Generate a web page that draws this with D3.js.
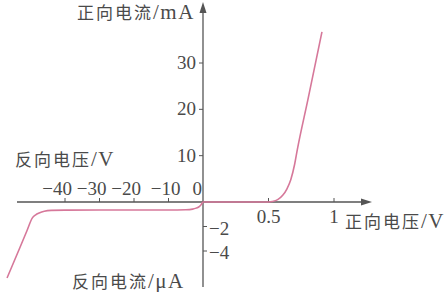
<!DOCTYPE html>
<html>
<head>
<meta charset="utf-8">
<script src="https://cdn.jsdelivr.net/npm/d3@7"></script>
<style>
  html, body { margin: 0; padding: 0; background: #fff; }
  svg { display: block; }
</style>
</head>
<body>
<svg id="chart"></svg>
<script>
// forward branch: volts -> mA
const forwardV = [0, 0.2, 0.4, 0.5, 0.53, 0.57, 0.61, 0.64, 0.67, 0.70, 0.72, 0.80, 0.908];
const forwardI = [0, 0, 0, 0, 0.1, 0.5, 1.5, 2.8, 4.8, 8.2, 11.3, 22, 36.7];
// reverse branch: volts -> µA
const reverseV = [0, -0.5, -1, -2, -3, -5, -10, -20, -30, -40, -44, -46, -47.5, -48.5, -49.5, -51, -53, -56.8];
const reverseI = [0, -0.2, -0.35, -0.5, -0.58, -0.63, -0.65, -0.65, -0.65, -0.66, -0.68, -0.75, -0.9, -1.05, -1.32, -2.33, -3.67, -6.2];

const xTicksNeg = [-40, -30, -20, -10];
const xTicksPos = [0.5, 1];
const yTicksPos = [10, 20, 30];
const yTicksNeg = [-2, -4];

const W = 444, H = 292;
const TEXT_COLOR = '#4a4a4a';
const AXIS_COLOR = '#555';
const CURVE_COLOR = '#d6789a';
const FONT = '"Liberation Serif", "Noto Sans CJK SC", serif';
const CJK_FONT = '"Noto Sans CJK SC", sans-serif';

const svg = d3.select('#chart').attr('width', W).attr('height', H);

// piecewise scales: different units either side of the origin
const x = d3.scaleLinear().domain([-40, 0, 1]).range([65, 203, 334]);
const y = d3.scaleLinear().domain([-4, 0, 30]).range([251, 202, 63]);

const x0 = x(0), y0 = y(0);
const axisLeft = 17, axisRight = 372, axisTop = 2, axisBottom = 287;

// axes
svg.append('line')
    .attr('x1', axisLeft).attr('x2', axisRight - 8)
    .attr('y1', y0).attr('y2', y0)
    .attr('stroke', AXIS_COLOR).attr('stroke-width', 1.3);
svg.append('path')
    .attr('d', `M${axisRight},${y0} L${axisRight - 11},${y0 - 3.5} L${axisRight - 11},${y0 + 3.5} Z`)
    .attr('fill', AXIS_COLOR);

svg.append('line')
    .attr('x1', x0).attr('x2', x0)
    .attr('y1', axisTop + 8).attr('y2', axisBottom)
    .attr('stroke', AXIS_COLOR).attr('stroke-width', 1.3);
svg.append('path')
    .attr('d', `M${x0},${axisTop} L${x0 - 3.5},${axisTop + 11} L${x0 + 3.5},${axisTop + 11} Z`)
    .attr('fill', AXIS_COLOR);

// x ticks (drawn above the axis)
svg.selectAll('.xtick')
    .data(xTicksNeg.concat(xTicksPos))
    .enter().append('line')
    .attr('class', 'xtick')
    .attr('x1', d => x(d)).attr('x2', d => x(d))
    .attr('y1', y0).attr('y2', y0 - 4)
    .attr('stroke', AXIS_COLOR).attr('stroke-width', 1);

svg.selectAll('.xlabel-neg')
    .data(xTicksNeg)
    .enter().append('text')
    .attr('class', 'xlabel-neg')
    .attr('x', d => x(d) + (d === -10 ? 12 : 7))
    .attr('y', 195)
    .attr('text-anchor', 'end')
    .style('font-family', FONT).style('font-size', '19px')
    .attr('fill', TEXT_COLOR)
    .text(d => '\u2212' + Math.abs(d));

svg.append('text')
    .attr('x', x0 - 1).attr('y', 195)
    .attr('text-anchor', 'end')
    .style('font-family', FONT).style('font-size', '19px')
    .attr('fill', TEXT_COLOR)
    .text('0');

svg.selectAll('.xlabel-pos')
    .data(xTicksPos)
    .enter().append('text')
    .attr('class', 'xlabel-pos')
    .attr('x', d => x(d))
    .attr('y', 223)
    .attr('text-anchor', 'middle')
    .style('font-family', FONT).style('font-size', '19px')
    .attr('fill', TEXT_COLOR)
    .text(d => d);

// y ticks
svg.selectAll('.ytick-pos')
    .data(yTicksPos)
    .enter().append('line')
    .attr('class', 'ytick-pos')
    .attr('x1', x0).attr('x2', x0 - 4)
    .attr('y1', d => y(d)).attr('y2', d => y(d))
    .attr('stroke', AXIS_COLOR).attr('stroke-width', 1);

svg.selectAll('.ylabel-pos')
    .data(yTicksPos)
    .enter().append('text')
    .attr('class', 'ylabel-pos')
    .attr('x', x0 - 7)
    .attr('y', d => y(d) + 6)
    .attr('text-anchor', 'end')
    .style('font-family', FONT).style('font-size', '19px')
    .attr('fill', TEXT_COLOR)
    .text(d => d);

svg.selectAll('.ytick-neg')
    .data(yTicksNeg)
    .enter().append('line')
    .attr('class', 'ytick-neg')
    .attr('x1', x0).attr('x2', x0 + 4)
    .attr('y1', d => y(d)).attr('y2', d => y(d))
    .attr('stroke', AXIS_COLOR).attr('stroke-width', 1);

svg.selectAll('.ylabel-neg')
    .data(yTicksNeg)
    .enter().append('text')
    .attr('class', 'ylabel-neg')
    .attr('x', x0 + 6)
    .attr('y', d => y(d) + 8)
    .attr('text-anchor', 'start')
    .style('font-family', FONT).style('font-size', '19px')
    .attr('fill', TEXT_COLOR)
    .text(d => '\u2212' + Math.abs(d));

// axis titles: CJK part + unit part
const titles = [
    { cjk: '正向电流', unit: '/mA', x: 77, y: 19 },
    { cjk: '反向电压', unit: '/V', x: 15, y: 166 },
    { cjk: '正向电压', unit: '/V', x: 345, y: 228 },
    { cjk: '反向电流', unit: '/μA', x: 72, y: 288 }
];
const title = svg.selectAll('.title')
    .data(titles)
    .enter().append('text')
    .attr('class', 'title')
    .attr('x', d => d.x).attr('y', d => d.y)
    .attr('fill', TEXT_COLOR);
title.append('tspan')
    .style('font-family', CJK_FONT).style('font-size', '17px')
    .style('letter-spacing', '2px')
    .text(d => d.cjk);
title.append('tspan')
    .style('font-family', FONT).style('font-size', '21px')
    .style('letter-spacing', '1.5px')
    .text(d => d.unit);

// characteristic curve
const points = reverseV.map((v, i) => [v, reverseI[i]]).reverse()
    .concat(forwardV.slice(1).map((v, i) => [v, forwardI[i + 1]]));

const line = d3.line()
    .x(d => x(d[0]))
    .y(d => y(d[1]))
    .curve(d3.curveMonotoneX);

svg.append('path')
    .datum(points)
    .attr('d', line)
    .attr('fill', 'none')
    .attr('stroke', CURVE_COLOR)
    .attr('stroke-width', 1.6);
</script>
</body>
</html>
